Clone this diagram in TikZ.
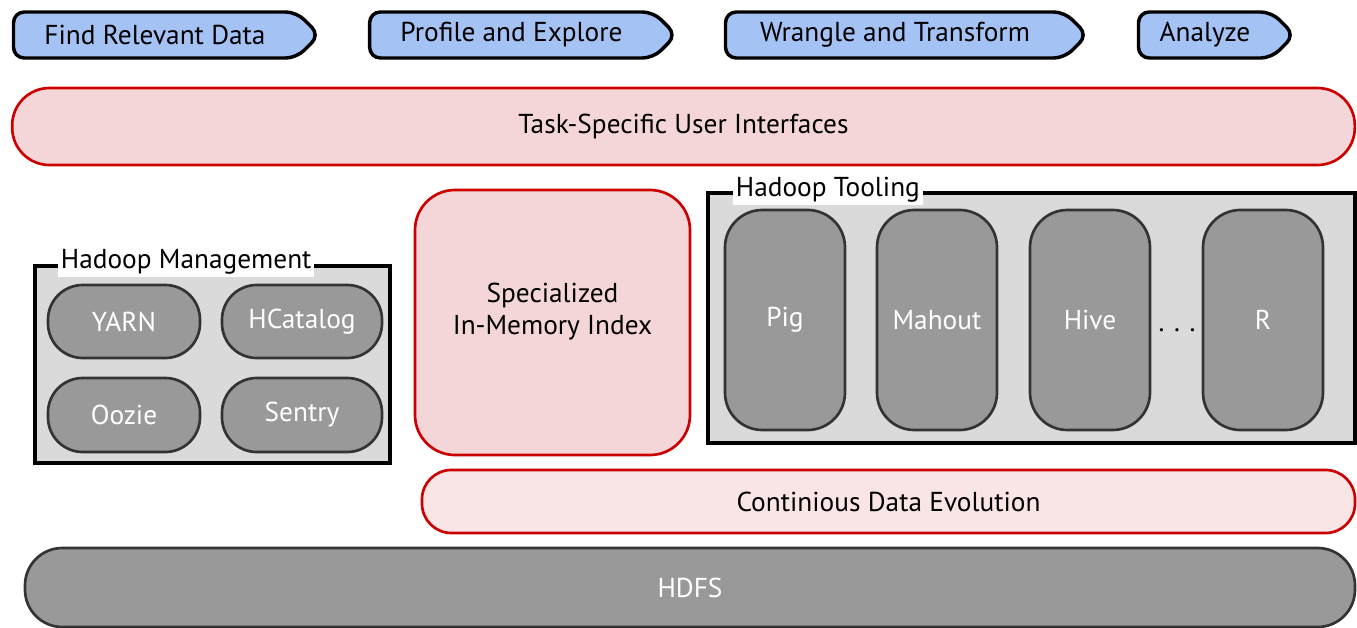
\documentclass[tikz,border=0pt]{standalone}
\usepackage{fontspec}
\setmainfont{PT Sans}
\usetikzlibrary{
    shapes,
    positioning
}
\definecolor{stepblue}{RGB}{164,194,244}
\definecolor{uired}{RGB}{204,0,0}
\definecolor{uipink}{RGB}{245,214,216}
\definecolor{lightpink}{RGB}{249,228,230}
\definecolor{toolgray}{RGB}{153,153,153}
\definecolor{groupgray}{RGB}{218,218,218}
\definecolor{edgegray}{RGB}{51,51,51}

\begin{document}
\begin{tikzpicture}[
    x=0.75pt, y=-0.75pt,
    font=\fontsize{20.5}{24}\selectfont,
    stage/.style={
        shape=signal,
        signal to=east,
        draw=black,
        line width=2.6pt,
        fill=stepblue,
        rounded corners=8pt,
        minimum height=34.5pt,
        inner sep=0pt
    },
    layer/.style={
        draw=uired,
        line width=2pt,
        fill=uipink,
        rounded corners=28pt
    },
    tool/.style={
        draw=edgegray,
        line width=2pt,
        fill=toolgray,
        text=white,
        rounded corners=26pt
    },
    group/.style={
        draw=black,
        line width=3pt,
        fill=groupgray
    },
    grouplabel/.style={
        fill=white,
        inner sep=2pt,
        anchor=west
    }
]
                        \useasboundingbox (0, 0) rectangle (1357, 628);
                        \node[stage, minimum width=229.5pt] (find) at (155, 35) {Find Relevant Data};
                        \node[stage, minimum width=230pt] (profile) at (511.5, 35) {Profile and Explore};
                        \node[stage, minimum width=271.5pt] (wrangle) at (895, 35) {Wrangle and Transform};
                        \node[stage, minimum width=117pt] (analyze) at (1205, 35) {Analyze};
                        \node[layer, minimum width=1007pt, minimum height=57.75pt] (ui) at (683.5, 126.5) {Task-Specific User Interfaces};
                        \node[group, minimum width=266.25pt, minimum height=147.75pt] (mgmt) at (212.5, 364.5) {};
                        \node[grouplabel] (mgmtlabel) at (58, 262) {Hadoop Management};
                        \node[tool, minimum width=114pt, minimum height=54.75pt] (yarn) at (124, 321.5) {YARN};
                        \node[tool, minimum width=120pt, minimum height=54.75pt] (hcatalog) at (302, 321.5) {HCatalog};
                        \node[tool, minimum width=114pt, minimum height=55.5pt] (oozie) at (124, 415) {Oozie};
                        \node[tool, minimum width=120pt, minimum height=55.5pt] (sentry) at (302, 415) {Sentry};
                        \node[layer, rounded corners=30pt, minimum width=206.25pt, minimum height=198.75pt] (index) at (552.5, 322.5) {};
                        \node[align=center] (indextext) at (552.5, 312) {Specialized\\In-Memory Index};
                        \node[group, minimum width=485.25pt, minimum height=187.5pt] (tooling) at (1031.5, 318) {};
                        \node[grouplabel] (toolinglabel) at (733, 190) {Hadoop Tooling};
                        \node[tool, rounded corners=28pt, minimum width=90pt, minimum height=165pt] (pig) at (785, 320) {Pig};
                        \node[tool, rounded corners=28pt, minimum width=90pt, minimum height=165pt] (mahout) at (937, 320) {Mahout};
                        \node[tool, rounded corners=28pt, minimum width=90pt, minimum height=165pt] (hive) at (1090, 320) {Hive};
                        \node[tool, rounded corners=28pt, minimum width=90pt, minimum height=165pt] (r) at (1263, 320) {R};
                        \node (dots) at (1177, 330) {. . .};
                        \node[layer, fill=lightpink, rounded corners=22pt, minimum width=699.75pt, minimum height=47.25pt] (evolution) at (888.5, 501.5) {Continious Data Evolution};
                        \node[tool, rounded corners=28pt, minimum width=997.5pt, minimum height=59.25pt] (hdfs) at (690, 587.5) {HDFS};
                    \end{tikzpicture}
\end{document}
